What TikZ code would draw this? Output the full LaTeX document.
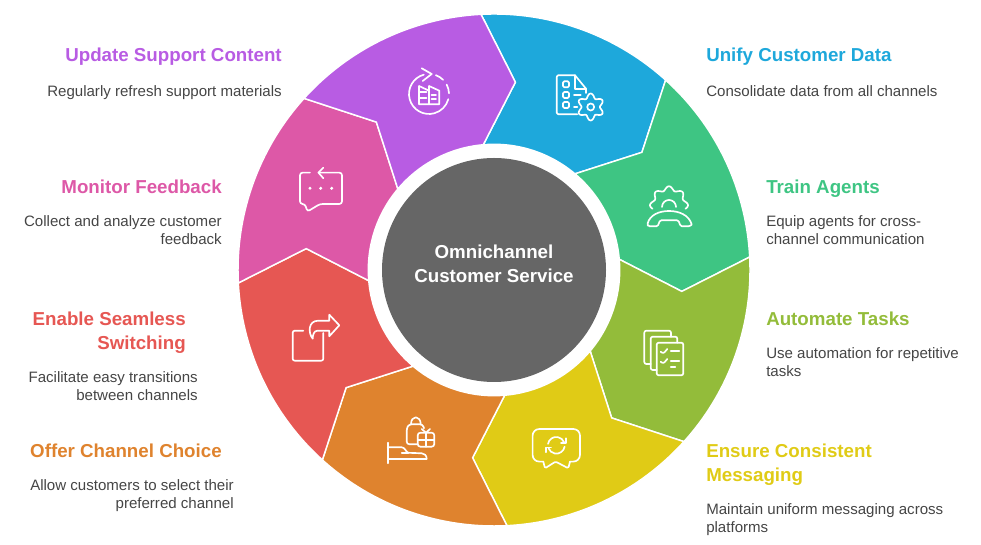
\documentclass[tikz,border=0pt]{standalone}
\usepackage{fontspec}
\setmainfont{Liberation Sans}
\usetikzlibrary{calc}
\definecolor{hubgray}{HTML}{666666}
\definecolor{bodygray}{HTML}{454545}
\definecolor{unifyblue}{HTML}{1EA8DB}
\definecolor{trainteal}{HTML}{3EC583}
\definecolor{autoolive}{HTML}{93BC3A}
\definecolor{ensureyellow}{HTML}{E0CB16}
\definecolor{offerorange}{HTML}{DF832E}
\definecolor{enablered}{HTML}{E65753}
\definecolor{monitorpink}{HTML}{DD58A7}
\definecolor{updatepurple}{HTML}{B85CE3}
\tikzset{
  segment/.style={draw=white,line width=1.1pt,line join=miter},
  iconline/.style={draw=white,line width=1.25pt,line cap=round,line join=round},
  titletext/.style={inner sep=0pt,font=\fontsize{14.05pt}{18pt}\selectfont\bfseries},
  desctext/.style={inner sep=0pt,text=bodygray,font=\fontsize{11.3pt}{13.5pt}\selectfont},
}
\begin{document}
\begin{tikzpicture}[x=0.75pt,y=0.75pt]
            \useasboundingbox (0,0) rectangle (981,545);
            \coordinate (O) at (494,275);
            % boundaries between the segments, clockwise from the top
            \coordinate (a1) at ($(O)+(92.9:256)$);
            \coordinate (b1) at ($(O)+(83.5:189)$);
            \coordinate (c1) at ($(O)+(94.9:125.7)$);
            \coordinate (a2) at ($(O)+(47.9:256)$);
            \coordinate (b2) at ($(O)+(38.5:189)$);
            \coordinate (c2) at ($(O)+(49.9:125.7)$);
            \coordinate (a3) at ($(O)+(2.9:256)$);
            \coordinate (b3) at ($(O)+(-6.5:189)$);
            \coordinate (c3) at ($(O)+(4.9:125.7)$);
            \coordinate (a4) at ($(O)+(-42.1:256)$);
            \coordinate (b4) at ($(O)+(-51.5:189)$);
            \coordinate (c4) at ($(O)+(-40.1:125.7)$);
            \coordinate (a5) at ($(O)+(-87.1:256)$);
            \coordinate (b5) at ($(O)+(-96.5:189)$);
            \coordinate (c5) at ($(O)+(-85.1:125.7)$);
            \coordinate (a6) at ($(O)+(-132.1:256)$);
            \coordinate (b6) at ($(O)+(-141.5:189)$);
            \coordinate (c6) at ($(O)+(-130.1:125.7)$);
            \coordinate (a7) at ($(O)+(-177.1:256)$);
            \coordinate (b7) at ($(O)+(-186.5:189)$);
            \coordinate (c7) at ($(O)+(-175.1:125.7)$);
            \coordinate (a8) at ($(O)+(137.9:256)$);
            \coordinate (b8) at ($(O)+(128.5:189)$);
            \coordinate (c8) at ($(O)+(139.9:125.7)$);
            % segments
            \filldraw[segment,fill=unifyblue] (a1) arc[start angle=92.9,end angle=47.9,radius=256] -- (b2) -- (c2) arc[start angle=49.9,end angle=94.9,radius=125.7] -- (b1) -- cycle;
            \filldraw[segment,fill=trainteal] (a2) arc[start angle=47.9,end angle=2.9,radius=256] -- (b3) -- (c3) arc[start angle=4.9,end angle=49.9,radius=125.7] -- (b2) -- cycle;
            \filldraw[segment,fill=autoolive] (a3) arc[start angle=2.9,end angle=-42.1,radius=256] -- (b4) -- (c4) arc[start angle=-40.1,end angle=4.9,radius=125.7] -- (b3) -- cycle;
            \filldraw[segment,fill=ensureyellow] (a4) arc[start angle=-42.1,end angle=-87.1,radius=256] -- (b5) -- (c5) arc[start angle=-85.1,end angle=-40.1,radius=125.7] -- (b4) -- cycle;
            \filldraw[segment,fill=offerorange] (a5) arc[start angle=-87.1,end angle=-132.1,radius=256] -- (b6) -- (c6) arc[start angle=-130.1,end angle=-85.1,radius=125.7] -- (b5) -- cycle;
            \filldraw[segment,fill=enablered] (a6) arc[start angle=-132.1,end angle=-177.1,radius=256] -- (b7) -- (c7) arc[start angle=-175.1,end angle=-130.1,radius=125.7] -- (b6) -- cycle;
            \filldraw[segment,fill=monitorpink] (a7) arc[start angle=182.9,end angle=137.9,radius=256] -- (b8) -- (c8) arc[start angle=139.9,end angle=184.9,radius=125.7] -- (b7) -- cycle;
            \filldraw[segment,fill=updatepurple] (a8) arc[start angle=137.9,end angle=92.9,radius=256] -- (b1) -- (c1) arc[start angle=94.9,end angle=139.9,radius=125.7] -- (b8) -- cycle;
            % hub
            \node[circle,fill=hubgray,inner sep=0pt,minimum size=168pt] (hub) at (O) {};
            \node[inner sep=0pt,text=white,align=center,titletext] (hubtext) at (494,281) {Omnichannel\\Customer Service};
            % right labels
            \node[titletext,text=unifyblue,anchor=north west] (title1) at (706,497) {Unify Customer Data};
            \node[desctext,anchor=north west] (desc1) at (706,460) {Consolidate data from all channels};
            \node[titletext,text=trainteal,anchor=north west] (title2) at (766,365) {Train Agents};
            \node[desctext,anchor=north west,align=left] (desc2) at (766,330) {Equip agents for cross-\\channel communication};
            \node[titletext,text=autoolive,anchor=north west] (title3) at (766,233) {Automate Tasks};
            \node[desctext,anchor=north west,align=left] (desc3) at (766,198) {Use automation for repetitive\\tasks};
            \node[titletext,text=ensureyellow,anchor=north west,align=left] (title4) at (706,101) {Ensure Consistent\\Messaging};
            \node[desctext,anchor=north west,align=left] (desc4) at (706,42) {Maintain uniform messaging across\\platforms};
            % left labels
            \node[titletext,text=offerorange,anchor=north east] (title5) at (222,101) {Offer Channel Choice};
            \node[desctext,anchor=north east,align=right] (desc5) at (234,66) {Allow customers to select their\\preferred channel};
            \node[titletext,text=enablered,anchor=north east,align=right] (title6) at (186,233) {Enable Seamless\\Switching};
            \node[desctext,anchor=north east,align=right] (desc6) at (198,174) {Facilitate easy transitions\\between channels};
            \node[titletext,text=monitorpink,anchor=north east] (title7) at (222,365) {Monitor Feedback};
            \node[desctext,anchor=north east,align=right] (desc7) at (222,330) {Collect and analyze customer\\feedback};
            \node[titletext,text=updatepurple,anchor=north east] (title8) at (282,497) {Update Support Content};
            \node[desctext,anchor=north east] (desc8) at (282,460) {Regularly refresh support materials};
            % icon: documents and gear
            \begin{scope}[shift={(580,447)},iconline]
                \draw (6,5) -- (6,9.3) -- (-5,22.7) -- (-22,22.7) [rounded corners=1.5pt] -- (-23.3,22.7) -- (-23.3,-16.3) -- (-2.7,-16.3);
                \draw (-5,22.7) -- (-5,9.3) -- (6,9.3);
                \draw[rounded corners=1pt] (-17,10.7) rectangle (-11,16.7);
                \draw[rounded corners=1pt] (-17,0) rectangle (-11,6);
                \draw[rounded corners=1pt] (-17,-10) rectangle (-11,-4);
                \draw (-6,3) -- (0.7,3);
                \draw (-6,-9) -- (-2.7,-9);
                \draw (10.7,-9) circle (3.5);
                \draw[shift={(10.7,-9)}] plot[domain=0:360,samples=73,smooth] (\x:{11.3+2.2*cos(6*(\x-90))}) -- cycle;
            \end{scope}
            % icon: gear and handset
            \begin{scope}[shift={(669,338)},iconline]
                \draw[shift={(0,1.7)}] plot[domain=-12:192,samples=61,smooth] (\x:{17+2*cos(8*(\x-90))});
                \draw (-7,0) arc[start angle=180,end angle=0,radius=7];
                \draw (-21.7,-17.5) .. controls (-19,-8) and (-10,-4) .. (0,-4) .. controls (10,-4) and (20,-8) .. (22.7,-17.5) [rounded corners=1pt] -- (21,-19.3) -- (11.7,-19.3) -- (9.3,-13.3) -- (-9,-13.3) -- (-11.3,-19.3) -- (-20.7,-19.3) -- cycle;
            \end{scope}
            % icon: checklist pages
            \begin{scope}[shift={(664,192)},iconline,rounded corners=1.5pt]
                \draw (-13.3,-11) -- (-19.7,-11) -- (-19.7,22.3) -- (7,22.3) -- (7,16.3);
                \draw (-7.3,-17) -- (-13.3,-17) -- (-13.3,16.3) -- (13.3,16.3) -- (13.3,10.3);
                \draw (-7.3,10.3) rectangle (19.3,-22.3);
                \draw (-3.3,1.3) -- (-0.7,-0.7) -- (3.3,4);
                \draw (-3.3,-8.7) -- (-0.7,-10.7) -- (3.3,-6);
                \draw (6.7,2) -- (15.3,2);
                \draw (6.7,-7.7) -- (15.3,-7.7);
                \draw (6.7,-13.7) -- (11.3,-13.7);
            \end{scope}
            % icon: refresh bubble
            \begin{scope}[shift={(556.3,99.7)},iconline]
                \draw[rounded corners=5pt] (-13,-16.3) -- (-23.7,-16.3) -- (-23.7,16.3) -- (23.7,16.3) -- (23.7,-16.3) -- (13.7,-16.3);
                \draw[rounded corners=1pt] (-13,-16.3) -- (-11.3,-23) -- (-0.7,-16.3) -- (12,-23) -- (13.7,-16.3);
                \draw (-8.3,1.4) arc[start angle=170,end angle=20,radius=8.4];
                \draw (8.3,-1.4) arc[start angle=-10,end angle=-160,radius=8.4];
                \draw (9.7,7) -- (9.7,2) -- (4.7,2);
                \draw (-10.3,-7) -- (-10.3,-2.3) -- (-5.3,-2.3);
            \end{scope}
            % icon: hand with bag and gift
            \begin{scope}[shift={(410,105)},iconline]
                \draw (-22.3,-2.7) -- (-22.3,-23.3);
                \draw (-22.3,-7.3) -- (-8.3,-7.3) .. controls (-5,-7.3) and (-4,-12.3) .. (-1.7,-12.8) -- (11.7,-13.3) .. controls (14,-13.5) and (16.7,-15) .. (16.7,-19) -- (-22.3,-19);
                \draw (-8.3,-13.3) -- (-1.7,-13.3);
                \draw[rounded corners=2pt] (7.7,-4.3) -- (-3.3,-4.3) -- (-3.3,11.7) -- (-1,15.7) -- (12.7,15.7) -- (14,11.7);
                \draw (1,15.7) .. controls (1,25) and (10.7,25) .. (10.7,15.7);
                \draw[rounded corners=2pt] (7.7,7.3) rectangle (24.3,-6.7);
                \draw (16,7.3) -- (16,-6.7);
                \draw (7.7,0) -- (24.3,0);
                \draw (11.7,11) -- (16,7.3) -- (20,11);
            \end{scope}
            % icon: square with arrow
            \begin{scope}[shift={(316,207)},iconline]
                \draw[rounded corners=1.5pt] (-12.7,7.3) -- (-23.3,7.3) -- (-23.3,-22.7) -- (7.3,-22.7) -- (7.3,5);
                \draw (-3.3,-0.7) .. controls (-8,5) and (-8,17.3) .. (2.3,17.3) -- (13.3,17.3) -- (13.3,23.3) -- (23.3,12.7) -- (13.3,1.7) -- (13.3,7.3) -- (1.3,7.3) .. controls (-2,7.3) and (-3.3,3) .. (-3.3,-0.7);
            \end{scope}
            % icon: bubble with back arrow
            \begin{scope}[shift={(320.7,356.7)},iconline]
                \draw[rounded corners=2pt] (-10.7,15.7) -- (-20.7,15.7) -- (-20.7,-15.7) -- (-15.7,-15.7) -- (-13.3,-23.3) -- (-0.7,-15.7) -- (21.3,-15.7) -- (21.3,15.7) -- (-2.3,15.7);
                \draw (2.7,20.7) -- (-2.3,15.7) -- (2.7,10);
                \fill[white] (-10.7,0) circle (1.7);
                \fill[white] (0,0) circle (1.7);
                \fill[white] (11,0) circle (1.7);
            \end{scope}
            % icon: factory in a cycle
            \begin{scope}[shift={(429,451)},iconline]
                \draw (0,0) ++(105:20) arc[start angle=105,end angle=345,radius=20];
                \draw (0,0) ++(70:20) arc[start angle=70,end angle=45,radius=20];
                \draw (0,0) ++(28:20) arc[start angle=28,end angle=2,radius=20];
                \draw (-7.3,25.7) -- (2.7,20) -- (-6.3,13);
                \draw (-10,-10.3) -- (-10,8) -- (0,3.3) -- (0,8) -- (10.3,3.3) -- (10.3,-10.3) -- cycle;
                \draw (0,3.3) -- (0,-10.3);
                \draw (-10,1.7) -- (-2.5,1.7);
                \draw (-10,-4.3) -- (-2.5,-4.3);
                \draw (2.5,-1) -- (7,-1);
                \draw (2.5,-5) -- (7,-5);
            \end{scope}
        \end{tikzpicture}
\end{document}
